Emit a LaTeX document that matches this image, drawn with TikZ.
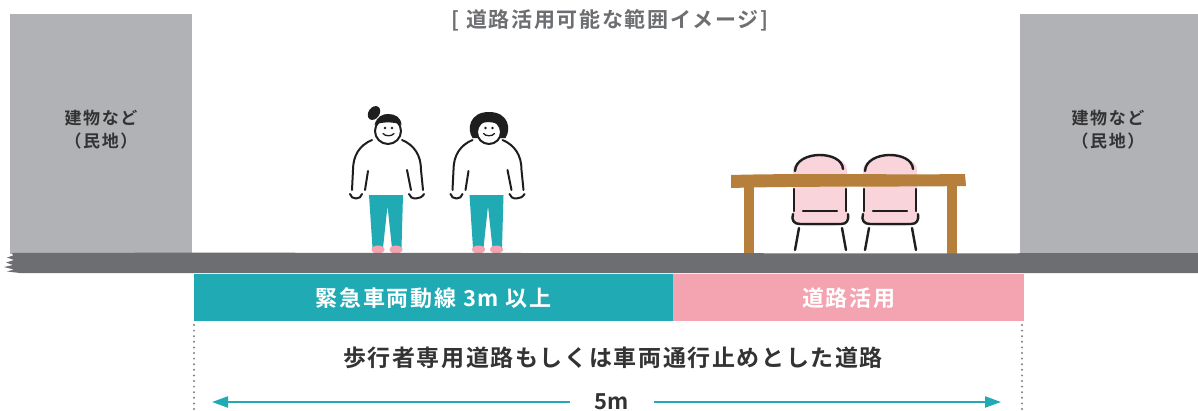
\documentclass[tikz,border=0pt]{standalone}
\usepackage{fontspec}
\newfontfamily\jp{Noto Sans CJK JP}[BoldFont={* Bold}]
\usetikzlibrary{arrows.meta}

\definecolor{bldgcol}{HTML}{B1B2B6}
\definecolor{groundcol}{HTML}{6D6E71}
\definecolor{lanecol}{HTML}{1FAAB4}
\definecolor{usecol}{HTML}{F4A3B0}
\definecolor{chaircol}{HTML}{F9D4DA}
\definecolor{woodcol}{HTML}{B6803C}
\definecolor{inkcol}{HTML}{1E1E1E}
\definecolor{txtcol}{HTML}{333333}
\definecolor{titlecol}{HTML}{6D6E71}
\definecolor{dotcol}{HTML}{808080}

\tikzset{
  ink/.style={draw=inkcol, line width=2pt, line cap=round, line join=round},
  thinink/.style={draw=inkcol, line width=1.3pt, line cap=round},
  bldg/.style={fill=bldgcol, inner sep=0pt, anchor=north west},
  bldglbl/.style={font=\jp\bfseries\fontsize{17}{23}\selectfont\addfontfeature{LetterSpace=9},
    text=txtcol, align=center, inner sep=0pt},
  bar/.style={inner sep=0pt, anchor=north west, minimum height=47pt, text=white,
    font=\jp\bfseries\fontsize{22}{26}\selectfont\addfontfeature{LetterSpace=8}},
  dimline/.style={draw=dotcol, line width=2.2pt, line cap=round, dash pattern=on 0pt off 5.6pt},
  dimarrow/.style={draw=lanecol, line width=2pt, -{Triangle[length=16pt,width=11pt]}},
  % hand-drawn standing figure; origin at the top centre of the trousers
  figbody/.pic={
    \fill[lanecol] (-17,0) -- (17,0) -- (15.5,53) -- (6,53) -- (1.5,11) -- (-3,53) -- (-13.5,53) -- cycle;
    \fill[usecol] (-8,54.5) ellipse [x radius=6.5pt, y radius=4pt];
    \fill[usecol] (10,54.5) ellipse [x radius=6.5pt, y radius=4pt];
    \draw[ink] (-14,-55) .. controls (-26,-50) and (-33,-40) .. (-33,-25) -- (-34,-5);
    \draw[ink] (-18,-24) -- (-21,-5);
    \draw[ink] (-36,-1) .. controls (-35,5) and (-25,5) .. (-24,-1);
    \draw[ink] (16,-55) .. controls (28,-50) and (35,-40) .. (35,-25) -- (37,-5);
    \draw[ink] (21,-25) -- (25,-5);
    \draw[ink] (23,-1) .. controls (24,5) and (35,5) .. (38,-1);
  },
  figface/.pic={
    \fill[inkcol] (-1,-67) circle [radius=1.4pt];
    \fill[inkcol] (6,-67) circle [radius=1.4pt];
    \draw[thinink] (-3,-61.5) .. controls (-1,-58.5) and (6,-58.5) .. (8,-61.5);
  },
  personbun/.pic={
    \pic {figbody};
    \fill[inkcol, rotate around={-35:(-12,-82)}] (-12,-82) ellipse [x radius=5.5pt, y radius=7.5pt];
    \draw[ink, fill=white] (2,-64) circle [radius=13pt];
    \fill[inkcol] (-11.5,-70) .. controls (-9,-79) and (-3,-81) .. (2,-81)
      .. controls (9,-81) and (15,-78) .. (15.5,-70)
      .. controls (8,-73.5) and (-4,-73.5) .. (-11.5,-70) -- cycle;
    \pic {figface};
  },
  personbob/.pic={
    \pic {figbody};
    \fill[inkcol] (-14,-57) .. controls (-20,-66) and (-17,-83) .. (2.5,-83)
      .. controls (22,-83) and (25,-66) .. (19,-57) -- cycle;
    \draw[ink, fill=white] (2.5,-63) circle [radius=12pt];
    \begin{scope}
      \clip (2.5,-63) circle [radius=12pt];
      \fill[inkcol] (-12,-69) .. controls (-4,-74) and (9,-75) .. (17,-67) -- (17,-90) -- (-12,-90) -- cycle;
    \end{scope}
    \pic {figface};
  },
  % chair seen from behind the table; x relative, y absolute
  chair/.pic={
    \fill[chaircol] (-27,224) -- (-27,170) .. controls (-27,151) and (27,151) .. (27,170) -- (27,224)
      .. controls (20,227) and (-20,227) .. (-27,224) -- cycle;
    \draw[ink, line width=2.4pt] (-25,171) .. controls (-24,150) and (22,150) .. (23,169);
    \draw[ink, line width=2.4pt] (-26,189) -- (-26,211);
    \draw[ink, line width=2.4pt] (26,189) -- (26,211);
    \draw[ink, line width=2.4pt] (-17,211) -- (17,211);
    \draw[ink, line width=2.4pt] (-27,214) .. controls (-29,220) and (-26,224) .. (-20,224) -- (21,224)
      .. controls (27,224) and (29,220) .. (28,214);
    \draw[ink, line width=2.4pt] (-21,228) -- (-25,250);
    \draw[ink, line width=2.4pt] (22,228) -- (26,250);
  },
}

\begin{document}
\begin{tikzpicture}[x=1pt, y=-1pt]
  \useasboundingbox (0,0) rectangle (1198,410);
  \fill[white] (0,0) rectangle (1198,410);

  % buildings on private land
  \node[bldg, minimum width=182pt, minimum height=240pt] (bldgL) at (10,14) {};
  \node[bldg, minimum width=178pt, minimum height=240pt] (bldgR) at (1020,14) {};
  \node[bldglbl] (bldgLtxt) at (101,130) {建物など\\（民地）};
  \node[bldglbl] (bldgRtxt) at (1108,130) {建物など\\（民地）};

  % chairs and table
  \pic at (820,0) {chair};
  \pic at (890,0) {chair};
  \fill[woodcol] (731,175) .. controls (800,173) and (900,175) .. (965,174)
    -- (966,186) .. controls (900,187) and (800,186) .. (731,188) -- cycle;
  \fill[woodcol] (744,186) rectangle (754,254);
  \fill[woodcol] (947,186) rectangle (957,254);

  % pedestrians
  \pic at (386,195) {personbun};
  \pic at (486.5,195) {personbob};

  % road surface
  \fill[groundcol] (12,253) .. controls (300,252) and (700,254) .. (1198,253) -- (1198,273)
    -- (20,273) -- (7,271.5) -- (14,269.5) -- (4,267) -- (13,265) -- (6,262.5)
    -- (14,260) -- (7,257.5) -- (13,255.5) -- cycle;

  % usage bands
  \node[bar, fill=lanecol, minimum width=479pt] (lane) at (194,274) {緊急車両動線 3m 以上};
  \node[bar, fill=usecol, minimum width=351pt] (use) at (673,274) {道路活用};

  % extent of the road
  \coordinate (dimLt) at (194,325);
  \coordinate (dimLb) at (194,410);
  \coordinate (dimRt) at (1022,325);
  \coordinate (dimRb) at (1022,410);
  \draw[dimline] (dimLt) -- (dimLb);
  \draw[dimline] (dimRt) -- (dimRb);

  \node[font=\jp\bfseries\fontsize{23}{27}\selectfont\addfontfeature{LetterSpace=7}, text=txtcol] (roadtype) at (613,358)
    {歩行者専用道路もしくは車両通行止めとした道路};

  \node[font=\jp\bfseries\fontsize{22}{26}\selectfont, text=txtcol, inner xsep=25pt, inner ysep=0pt] (width) at (612,402) {5m};
  \coordinate (arrL) at (212,402);
  \coordinate (arrR) at (1001,402);
  \draw[dimarrow] (width.west) -- (arrL);
  \draw[dimarrow] (width.east) -- (arrR);

  \node[font=\jp\bfseries\fontsize{21}{25}\selectfont\addfontfeature{LetterSpace=8}, text=titlecol] (title) at (610,20)
    {[ 道路活用可能な範囲イメージ]};
\end{tikzpicture}
\end{document}
